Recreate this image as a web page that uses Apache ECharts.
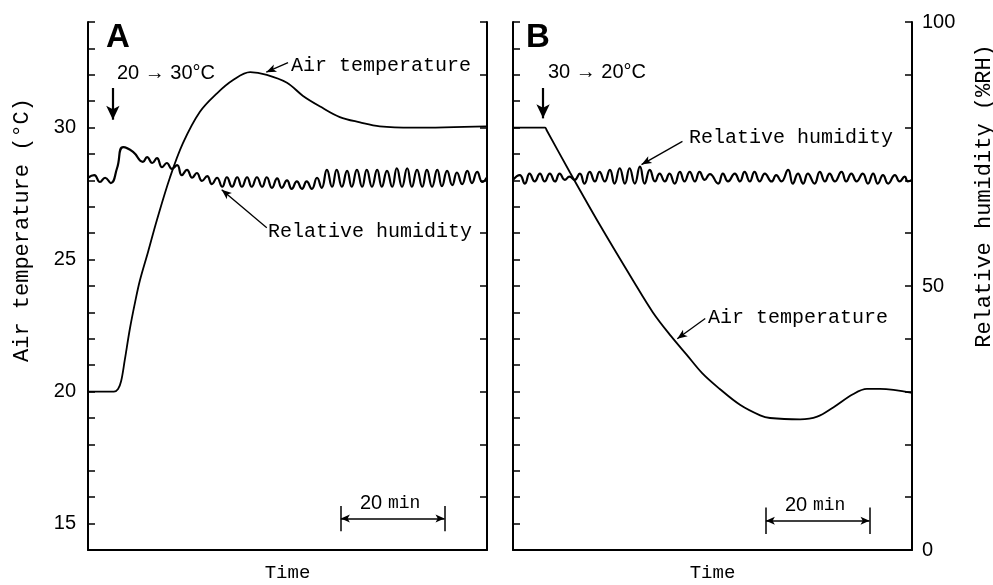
<!DOCTYPE html>
<html>
<head>
<meta charset="utf-8">
<script src="https://cdn.jsdelivr.net/npm/echarts@6/dist/echarts.min.js"></script>
<style>
  html, body { margin: 0; padding: 0; background: #fff; }
  #chart { width: 993px; height: 585px; }
</style>
</head>
<body>
<div id="chart"></div>
<script>
// ---- panel A : step 20 -> 30 °C (time in min, temp in °C, RH in %) ----
var tempATime = [0, 5.0, 5.8, 6.4, 7.1, 8.1, 9.1, 10.0, 11.6, 13.3, 15.8, 18.3, 21.6, 24.9, 28.0, 31.3, 34.5, 38.4, 41.5, 44.8, 48.6, 52.5, 56.3, 62.7, 77];
var tempAValue = [20.0, 20.0, 20.1, 20.4, 21.2, 22.4, 23.4, 24.2, 25.3, 26.5, 28.1, 29.4, 30.6, 31.3, 31.8, 32.1, 32.0, 31.7, 31.2, 30.8, 30.4, 30.2, 30.05, 30.0, 30.05];

var rhATime = [0, 1.2, 2.3, 3.3, 4.4, 5.6, 6.8, 8.7, 10.6, 11.4, 12.4, 13.3, 14.3, 15.2, 16.2, 17.2, 18.1, 19.1, 20.1, 21.0,
  22.0, 23.0, 23.9, 24.9, 25.9, 26.8, 27.8, 28.8, 29.7, 30.7, 31.6, 32.6, 33.6, 34.5, 35.5, 36.5, 37.4, 38.4, 39.3, 40.3,
  41.3, 42.2, 43.2, 44.2, 45.1, 46.1, 47.1, 48.0, 49.0, 50.0, 50.9, 51.9, 52.9, 53.8, 54.8, 55.8, 56.7, 57.7, 58.7, 59.6,
  60.6, 61.6, 62.5, 63.5, 64.5, 65.4, 66.4, 67.4, 68.3, 69.3, 70.3, 71.2, 72.2, 73.2, 74.1, 75.1, 76.1, 77.0];
var rhAValue = [70.5, 71.0, 69.7, 70.5, 69.5, 72.3, 76.3, 75.4, 73.5, 74.4, 73.3, 74.2, 72.5, 73.3, 72.2, 72.9, 71.0, 72.0, 70.5, 71.4,
  69.9, 70.8, 69.3, 70.5, 68.8, 70.6, 68.8, 70.6, 68.8, 70.6, 68.8, 70.6, 68.8, 70.6, 68.6, 70.4, 68.6, 70.0, 68.4, 69.8,
  68.4, 69.8, 68.4, 70.5, 68.6, 72.0, 68.8, 72.0, 68.8, 71.8, 68.8, 72.0, 68.8, 72.0, 68.8, 72.0, 68.8, 71.8, 68.8, 72.3,
  68.8, 72.3, 68.8, 72.0, 68.8, 72.0, 68.8, 72.0, 68.9, 71.8, 69.1, 71.5, 69.3, 71.8, 69.5, 71.6, 69.7, 70.6];

// ---- panel B : step 30 -> 20 °C ----
var tempBTime = [0, 5.9, 6.2, 6.5, 11.0, 16.8, 23.2, 27.0, 30.5, 33.5, 36.5, 39.9, 43.8, 47.7, 49.6, 55.4, 58.7, 61.8, 65.6, 68.3, 70.8, 77];
var tempBValue = [30.0, 30.0, 30.0, 29.9, 28.3, 26.3, 24.2, 23.0, 22.1, 21.4, 20.7, 20.1, 19.5, 19.1, 19.0, 18.95, 19.05, 19.4, 19.9, 20.1, 20.1, 19.95];

var rhBTime = [0, 1.3, 2.3, 3.2, 4.2, 5.2, 6.1, 7.1, 8.1, 9.0, 10.0, 10.9, 11.9, 12.9, 13.8, 14.8, 15.8, 16.7, 17.7, 18.7,
  19.6, 20.6, 21.6, 22.5, 23.5, 24.5, 25.4, 26.4, 27.4, 28.3, 29.3, 30.2, 31.2, 32.2, 33.1, 34.1, 35.1, 36.0, 37.0, 38.0,
  39.6, 40.5, 41.5, 42.8, 43.8, 44.7, 45.7, 46.6, 47.6, 48.6, 49.9, 50.8, 51.8, 53.1, 54.0, 55.0, 56.0, 56.9, 58.2, 59.2,
  60.2, 61.1, 62.1, 63.4, 64.3, 65.3, 66.3, 67.5, 68.5, 69.5, 70.4, 71.4, 72.4, 73.7, 74.6, 75.6, 76.2, 77.0];
var rhBValue = [70.1, 71.0, 69.4, 71.3, 69.8, 71.3, 69.8, 71.3, 69.8, 71.3, 70.1, 70.7, 70.1, 71.3, 69.4, 71.6, 69.8, 71.6, 69.8, 72.0,
  69.4, 72.3, 69.4, 72.3, 69.4, 72.6, 69.4, 72.0, 69.8, 71.3, 69.8, 71.3, 69.4, 71.6, 69.8, 71.6, 69.8, 71.6, 70.1, 71.2,
  69.4, 71.3, 69.8, 71.3, 69.8, 71.6, 69.8, 71.6, 69.8, 71.3, 69.8, 71.0, 69.8, 72.0, 69.4, 71.3, 69.4, 71.3, 69.4, 71.6,
  69.8, 71.3, 69.8, 71.6, 69.8, 71.3, 69.8, 71.3, 69.4, 71.3, 69.4, 71.0, 69.4, 71.0, 69.8, 70.7, 69.8, 70.1];

// axes
var timeRange = [0, 77];
var tempRange = [14, 34];
var rhRange = [0, 100];
var tempLabels = [15, 20, 25, 30];
var rhLabels = [0, 50, 100];

var mono = 'Liberation Mono';
var sans = 'Liberation Sans';

function pairs (xs, ys) {
  return xs.map(function (x, i) { return [x, ys[i]]; });
}

// one arrow / segment in data coords of a panel
function seg (from, to, endSym, width, size) {
  var ls = { color: '#000', width: width, type: 'solid' };
  return [
    { coord: from, symbol: 'none', lineStyle: ls },
    { coord: to, symbol: endSym, symbolSize: size, lineStyle: ls }
  ];
}

// 20 min scale bar: start time, y (°C), bar half height (°C)
function scaleBar (t0, y, h) {
  var ls = { color: '#000', width: 1.5, type: 'solid' };
  return [
    [{ coord: [t0, y], symbol: 'arrow', symbolSize: [6, 9], lineStyle: ls },
      { coord: [t0 + 20, y], symbol: 'arrow', symbolSize: [6, 9], lineStyle: ls }],
    [{ coord: [t0, y + h], symbol: 'none', lineStyle: ls }, { coord: [t0, y - h], symbol: 'none', lineStyle: ls }],
    [{ coord: [t0 + 20, y + h], symbol: 'none', lineStyle: ls }, { coord: [t0 + 20, y - h], symbol: 'none', lineStyle: ls }]
  ];
}

function timeAxis (gi) {
  return {
    gridIndex: gi,
    type: 'value',
    min: timeRange[0],
    max: timeRange[1],
    axisLine: { onZero: false, lineStyle: { color: '#000', width: 2 } },
    axisTick: { show: false },
    axisLabel: { show: false },
    splitLine: { show: false },
    name: 'Time',
    nameLocation: 'middle',
    nameGap: 13,
    nameTextStyle: { fontFamily: mono, fontSize: 19, color: '#000' }
  };
}

function tempAxis (gi, labels) {
  return {
    gridIndex: gi,
    type: 'value',
    position: 'left',
    min: tempRange[0],
    max: tempRange[1],
    interval: 1,
    axisLine: { show: true, onZero: false, lineStyle: { color: '#000', width: 2 } },
    axisTick: { show: true, inside: true, length: 7, lineStyle: { color: '#000', width: 1.5 } },
    axisLabel: {
      show: labels,
      margin: 12,
      fontFamily: sans,
      fontSize: 20,
      color: '#000',
      formatter: function (v) { return tempLabels.indexOf(v) >= 0 ? String(v) : ''; }
    },
    splitLine: { show: false }
  };
}

function rhAxis (gi, labels) {
  return {
    gridIndex: gi,
    type: 'value',
    position: 'right',
    min: rhRange[0],
    max: rhRange[1],
    interval: 10,
    axisLine: { show: true, onZero: false, lineStyle: { color: '#000', width: 2 } },
    axisTick: { show: true, inside: true, length: 7, lineStyle: { color: '#000', width: 1.5 } },
    axisLabel: {
      show: labels,
      margin: 10,
      fontFamily: sans,
      fontSize: 20,
      color: '#000',
      formatter: function (v) { return rhLabels.indexOf(v) >= 0 ? String(v) : ''; }
    },
    splitLine: { show: false }
  };
}

function txt (x, y, text, font, align) {
  return {
    type: 'text',
    x: x,
    y: y,
    silent: true,
    style: { text: text, font: font, fill: '#000', align: align || 'left', verticalAlign: 'middle' }
  };
}

var option = {
  animation: false,
  backgroundColor: '#fff',
  grid: [
    { left: 88, top: 22, width: 399, height: 528, containLabel: false, outerBoundsMode: 'none' },
    { left: 513, top: 22, width: 399, height: 528, containLabel: false, outerBoundsMode: 'none' }
  ],
  xAxis: [timeAxis(0), timeAxis(1)],
  yAxis: [tempAxis(0, true), rhAxis(0, false), tempAxis(1, false), rhAxis(1, true)],
  series: [
    {
      type: 'line',
      xAxisIndex: 0,
      yAxisIndex: 0,
      data: pairs(tempATime, tempAValue),
      smooth: 0.35,
      showSymbol: false,
      lineStyle: { color: '#000', width: 1.8 },
      markLine: {
        silent: true,
        animation: false,
        label: { show: false },
        data: [
          seg([4.8, 31.5], [4.8, 30.3], 'arrow', 2.2, [10, 14]),
          seg([38.6, 32.46], [34.4, 32.1], 'arrow', 1.3, [6, 10]),
          seg([34.5, 26.21], [25.8, 27.65], 'arrow', 1.3, [6, 10])
        ].concat(scaleBar(48.8, 15.19, 0.48))
      }
    },
    {
      type: 'line',
      xAxisIndex: 0,
      yAxisIndex: 1,
      data: pairs(rhATime, rhAValue),
      smooth: 0.5,
      showSymbol: false,
      lineStyle: { color: '#000', width: 2.2 }
    },
    {
      type: 'line',
      xAxisIndex: 1,
      yAxisIndex: 2,
      data: pairs(tempBTime, tempBValue),
      smooth: 0.35,
      showSymbol: false,
      lineStyle: { color: '#000', width: 1.8 },
      markLine: {
        silent: true,
        animation: false,
        label: { show: false },
        data: [
          seg([5.8, 31.5], [5.8, 30.35], 'arrow', 2.2, [10, 14]),
          seg([32.7, 29.48], [24.8, 28.6], 'arrow', 1.3, [6, 10]),
          seg([37.1, 22.77], [31.7, 22.0], 'arrow', 1.3, [6, 10])
        ].concat(scaleBar(48.8, 15.11, 0.5))
      }
    },
    {
      type: 'line',
      xAxisIndex: 1,
      yAxisIndex: 3,
      data: pairs(rhBTime, rhBValue),
      smooth: 0.5,
      showSymbol: false,
      lineStyle: { color: '#000', width: 2.2 }
    }
  ],
  graphic: [
    txt(106, 38, 'A', 'bold 33px ' + sans),
    txt(526, 38, 'B', 'bold 33px ' + sans),
    txt(117, 73, '20 \u2192 30\u00b0C', '20px ' + sans),
    txt(548, 72, '30 \u2192 20\u00b0C', '20px ' + sans),
    txt(291, 66, 'Air temperature', '20px ' + mono),
    txt(268, 232, 'Relative humidity', '20px ' + mono),
    txt(689, 138, 'Relative humidity', '20px ' + mono),
    txt(708, 318, 'Air temperature', '20px ' + mono),
    txt(360, 503, '20', '20px ' + sans),
    txt(388, 503, 'min', '18px ' + mono),
    txt(785, 505, '20', '20px ' + sans),
    txt(813, 505, 'min', '18px ' + mono),
    {
      type: 'text', x: 22, y: 230, rotation: Math.PI / 2, silent: true,
      style: { text: 'Air temperature (\u00b0C)', font: '22px ' + mono, fill: '#000', align: 'center', verticalAlign: 'middle' }
    },
    {
      type: 'text', x: 984, y: 196, rotation: Math.PI / 2, silent: true,
      style: { text: 'Relative humidity (%RH)', font: '22px ' + mono, fill: '#000', align: 'center', verticalAlign: 'middle' }
    }
  ]
};

var myChart = echarts.init(document.getElementById('chart'));
myChart.setOption(option);
</script>
</body>
</html>
